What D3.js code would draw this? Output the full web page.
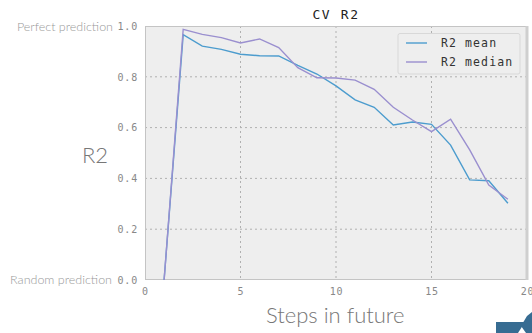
<!DOCTYPE html>
<html><head><meta charset="utf-8">
<script src="https://cdn.jsdelivr.net/npm/d3@7"></script>
<style>body{margin:0;background:#fff}svg{display:block}</style>
</head><body>
<script>
const steps = [1,2,3,4,5,6,7,8,9,10,11,12,13,14,15,16,17,18,19];
const r2Mean = [0.0,0.966,0.921,0.908,0.889,0.883,0.882,0.845,0.811,0.764,0.709,0.680,0.610,0.622,0.613,0.531,0.394,0.391,0.302];
const r2Median = [0.0,0.987,0.967,0.954,0.933,0.949,0.915,0.836,0.796,0.795,0.787,0.751,0.680,0.630,0.584,0.633,0.512,0.374,0.318];
const xTicks = [0,5,10,15,20];
const yTicks = [0.0,0.2,0.4,0.6,0.8,1.0];
const seriesNames = ["R2 mean","R2 median"];
const seriesColors = ["#4c9cce","#9a8fcf"];

const W=532,H=333;
const m={l:145,r:527,t:26,b:280};
const svg=d3.select("body").append("svg").attr("width",W).attr("height",H);
const x=d3.scaleLinear().domain([0,20]).range([m.l,m.r]);
const y=d3.scaleLinear().domain([0,1]).range([m.b,m.t]);

svg.append("rect").attr("x",m.l).attr("y",m.t).attr("width",m.r-m.l).attr("height",m.b-m.t).attr("fill","#eeeeee");

// grid
svg.append("g").selectAll("line").data(xTicks.slice(1,-1)).join("line")
  .attr("x1",d=>x(d)).attr("x2",d=>x(d)).attr("y1",m.t).attr("y2",m.b)
  .attr("stroke","#b0b0b0").attr("stroke-dasharray","2,3").attr("stroke-width",1);
svg.append("g").selectAll("line").data(yTicks.slice(1,-1)).join("line")
  .attr("y1",d=>y(d)).attr("y2",d=>y(d)).attr("x1",m.l).attr("x2",m.r)
  .attr("stroke","#b0b0b0").attr("stroke-dasharray","2,3").attr("stroke-width",1);

// frame
svg.append("rect").attr("x",m.l+0.5).attr("y",m.t+0.5).attr("width",m.r-m.l-1).attr("height",m.b-m.t-1)
  .attr("fill","none").attr("stroke","#c4c4c4").attr("stroke-width",1);
svg.append("line").attr("x1",m.r).attr("x2",m.r).attr("y1",m.t).attr("y2",m.b).attr("stroke","#cfcfcf").attr("stroke-width",3);

// axes
const mono="'DejaVu Sans Mono', monospace";
const xAxis=svg.append("g").attr("transform",`translate(0,${m.b})`)
  .call(d3.axisBottom(x).tickValues(xTicks).tickSize(0).tickPadding(8).tickFormat(d3.format("d")));
const yAxis=svg.append("g").attr("transform",`translate(${m.l},0)`)
  .call(d3.axisLeft(y).tickValues(yTicks).tickSize(0).tickPadding(7).tickFormat(d3.format(".1f")));
[xAxis,yAxis].forEach(g=>{g.select(".domain").remove();
  g.selectAll("text").attr("font-family",mono).attr("font-size",10).attr("letter-spacing","0.8px")
   .attr("fill","#888");});

// lines
const line=d3.line().x((d,i)=>x(steps[i])).y(d=>y(d));
[r2Mean,r2Median].forEach((s,k)=>{
  svg.append("path").datum(s).attr("d",line).attr("fill","none")
    .attr("stroke",seriesColors[k]).attr("stroke-width",1.4);
});

// title
svg.append("text").attr("x",x(10)).attr("y",19).attr("text-anchor","middle")
  .attr("font-family",mono).attr("font-size",13).attr("letter-spacing","1.6px")
  .attr("fill","#222").text("CV R2");

// legend
const lg=svg.append("g");
lg.append("rect").attr("x",398).attr("y",33.5).attr("width",122).attr("height",40.5).attr("rx",2)
  .attr("fill","#eeeeee").attr("stroke","#d8d8d8");
seriesNames.forEach((n,i)=>{
  const yy=43+i*19;
  lg.append("line").attr("x1",406).attr("x2",427).attr("y1",yy).attr("y2",yy)
    .attr("stroke",seriesColors[i]).attr("stroke-width",1.4);
  lg.append("text").attr("x",441).attr("y",yy+4).attr("font-family",mono).attr("font-size",11.5)
    .attr("letter-spacing","1.1px").attr("fill","#333").text(n);
});

// annotations
const light="Lato, 'Open Sans', sans-serif";
svg.append("text").attr("x",113).attr("y",31).attr("text-anchor","end").attr("font-family",light)
  .attr("font-weight",300).attr("font-size",12.5).attr("fill","#999").text("Perfect prediction");
svg.append("text").attr("x",112).attr("y",284).attr("text-anchor","end").attr("font-family",light)
  .attr("font-weight",300).attr("font-size",12.5).attr("fill","#999").text("Random prediction");
svg.append("text").attr("x",108).attr("y",163).attr("text-anchor","end").attr("font-family",light)
  .attr("font-weight",300).attr("font-size",22).attr("fill","#777").text("R2");
svg.append("text").attr("x",266).attr("y",323).attr("font-family",light)
  .attr("font-weight",300).attr("font-size",22).attr("fill","#777").text("Steps in future");

// slide decoration
svg.append("polygon").attr("points","496,322 525,322 518,333 496,333").attr("fill","#376c92");
svg.append("polygon").attr("points","527,316 532,312 532,333 526,333 521,326").attr("fill","#376c92");
</script>
</body></html>
